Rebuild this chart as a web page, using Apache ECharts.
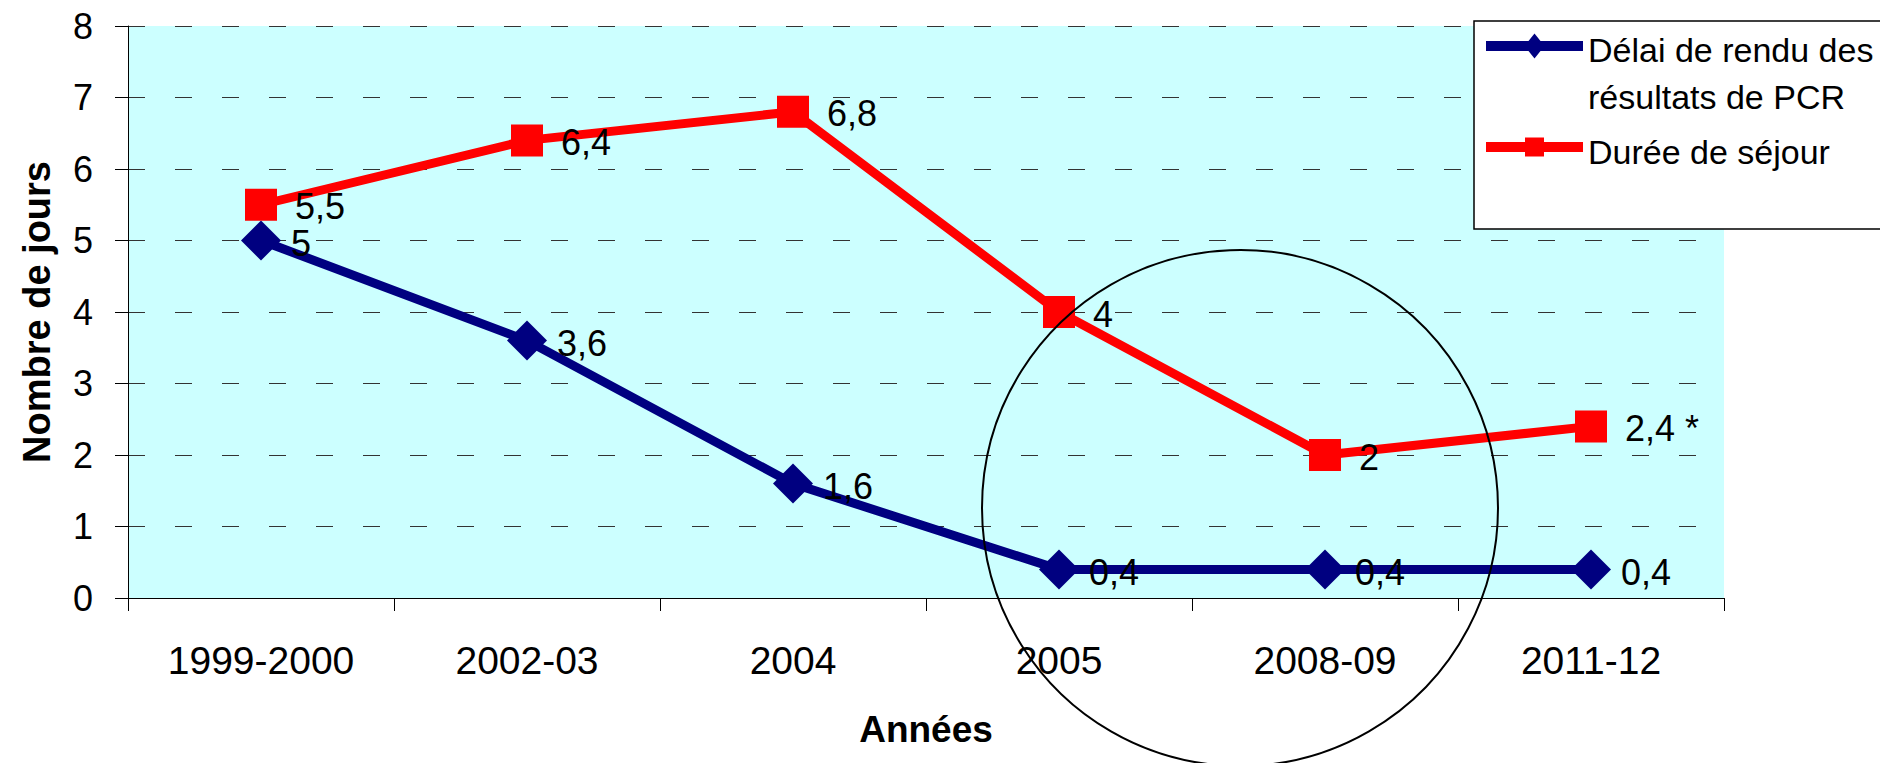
<!DOCTYPE html>
<html>
<head>
<meta charset="utf-8">
<script src="https://cdn.jsdelivr.net/npm/echarts@6/dist/echarts.min.js"></script>
<style>
html,body{margin:0;padding:0;background:#fff;}
#chart{width:1880px;height:763px;}
</style>
</head>
<body>
<div id="chart"></div>
<script>
const categories = ['1999-2000', '2002-03', '2004', '2005', '2008-09', '2011-12'];
const delaiPCR = [5, 3.6, 1.6, 0.4, 0.4, 0.4];
const dureeSejour = [5.5, 6.4, 6.8, 4, 2, 2.4];
const dureeNotes = ['', '', '', '', '', ' *'];
const yTicks = [0, 1, 2, 3, 4, 5, 6, 7, 8];
const seriesNames = ['Délai de rendu des\nrésultats de PCR', 'Durée de séjour'];
const axisNames = { x: 'Années', y: 'Nombre de jours' };
const seriesColors = ['#000080', '#FF0000'];

const FONT = "'Liberation Sans', Arial, sans-serif";
const fmt = v => String(v).replace('.', ',');

// legend drawn as a box (multi-line first entry with its key on the first line)
const LG = { x: 1474, y: 21, w: 420, h: 208, keyX: 1486, keyW: 97, textX: 1588,
             rows: [46, 147], textRows: [50, 152], lh: 47 };
const legendGraphics = [
  { type: 'rect', shape: { x: LG.x, y: LG.y, width: LG.w, height: LG.h },
    style: { fill: '#ffffff', stroke: '#000000', lineWidth: 1.5 }, z: 50, silent: true },
  { type: 'line', shape: { x1: LG.keyX, y1: LG.rows[0], x2: LG.keyX + LG.keyW, y2: LG.rows[0] },
    style: { stroke: seriesColors[0], lineWidth: 10 }, z: 51, silent: true },
  { type: 'polygon', shape: { points: [
      [LG.keyX + LG.keyW / 2, LG.rows[0] - 12.5], [LG.keyX + LG.keyW / 2 + 10, LG.rows[0]],
      [LG.keyX + LG.keyW / 2, LG.rows[0] + 12.5], [LG.keyX + LG.keyW / 2 - 10, LG.rows[0]] ] },
    style: { fill: seriesColors[0] }, z: 52, silent: true },
  { type: 'text', x: LG.textX, y: LG.textRows[0] - LG.lh / 2,
    style: { text: seriesNames[0], font: '34px ' + FONT, fill: '#000', lineHeight: LG.lh,
             verticalAlign: 'top', align: 'left' }, z: 52, silent: true },
  { type: 'line', shape: { x1: LG.keyX, y1: LG.rows[1], x2: LG.keyX + LG.keyW, y2: LG.rows[1] },
    style: { stroke: seriesColors[1], lineWidth: 10 }, z: 51, silent: true },
  { type: 'rect', shape: { x: LG.keyX + LG.keyW / 2 - 9.5, y: LG.rows[1] - 9.5, width: 19, height: 19 },
    style: { fill: seriesColors[1] }, z: 52, silent: true },
  { type: 'text', x: LG.textX, y: LG.textRows[1] - LG.lh / 2,
    style: { text: seriesNames[1], font: '34px ' + FONT, fill: '#000', lineHeight: LG.lh,
             verticalAlign: 'top', align: 'left' }, z: 52, silent: true }
];

const chart = echarts.init(document.getElementById('chart'), null, { renderer: 'svg' });
chart.setOption({
  animation: false,
  backgroundColor: '#ffffff',
  textStyle: { fontFamily: FONT },
  grid: {
    left: 128, right: 156, top: 26, bottom: 165,
    show: true, backgroundColor: '#CCFFFF', borderWidth: 0
  },
  xAxis: {
    type: 'category',
    data: categories,
    boundaryGap: true,
    name: axisNames.x,
    nameLocation: 'middle',
    nameGap: 113,
    nameTextStyle: { fontSize: 37, fontWeight: 'bold', color: '#000', fontFamily: FONT },
    axisLine: { lineStyle: { color: '#000', width: 1 } },
    axisTick: { show: true, length: 13, alignWithLabel: false, lineStyle: { color: '#000' } },
    axisLabel: { fontSize: 39, color: '#000', margin: 43, fontFamily: FONT },
    splitLine: { show: false }
  },
  yAxis: {
    type: 'value',
    min: yTicks[0], max: yTicks[yTicks.length - 1], interval: 1,
    name: axisNames.y,
    nameLocation: 'middle',
    nameRotate: 90,
    nameGap: 72,
    nameTextStyle: { fontSize: 38, fontWeight: 'bold', color: '#000', fontFamily: FONT },
    axisLine: { show: true, lineStyle: { color: '#000', width: 1 } },
    axisTick: { show: true, length: 13, lineStyle: { color: '#000' } },
    axisLabel: { fontSize: 36, color: '#000', margin: 35, fontFamily: FONT },
    splitLine: { show: true, lineStyle: { color: '#333', width: 1, type: [17, 30] } }
  },
  series: [
    {
      name: seriesNames[0],
      type: 'line',
      data: delaiPCR,
      color: seriesColors[0],
      symbol: 'diamond',
      symbolSize: 40,
      lineStyle: { width: 9, color: seriesColors[0] },
      itemStyle: { color: seriesColors[0] },
      label: {
        show: true, position: 'right', distance: 10, offset: [0, 3],
        fontSize: 36, lineHeight: 32, color: '#000', fontFamily: FONT,
        formatter: p => fmt(p.value)
      },
      z: 3
    },
    {
      name: seriesNames[1],
      type: 'line',
      data: dureeSejour,
      color: seriesColors[1],
      symbol: 'rect',
      symbolSize: 32,
      lineStyle: { width: 9, color: seriesColors[1] },
      itemStyle: { color: seriesColors[1] },
      label: {
        show: true, position: 'right', distance: 18, offset: [0, 2],
        fontSize: 36, lineHeight: 32, color: '#000', fontFamily: FONT,
        formatter: p => fmt(p.value) + dureeNotes[p.dataIndex]
      },
      z: 4
    }
  ],
  graphic: legendGraphics.concat([
    {
      type: 'circle',
      shape: { cx: 1240, cy: 508, r: 258 },
      style: { fill: 'none', stroke: '#000', lineWidth: 2 },
      z: 100, silent: true
    }
  ])
});
</script>
</body>
</html>
